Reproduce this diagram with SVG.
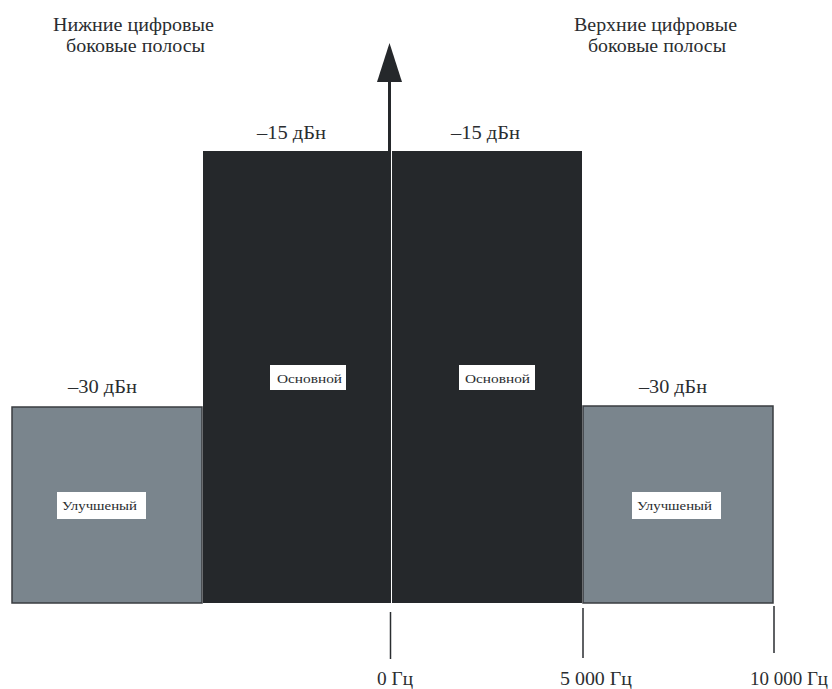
<svg xmlns="http://www.w3.org/2000/svg" width="832" height="689" viewBox="0 0 832 689">
<style>
text{font-family:'Liberation Serif','Times New Roman','DejaVu Serif',serif;fill:#2a2d30;}
.big{font-size:18px;}
.sm{font-size:12.5px;}
.dark{fill:#25282b;}
.gray{fill:#7a858d;stroke:#3a3d40;stroke-width:1.5;}
.tick{stroke:#2a2d30;stroke-width:1.5;}
.lbl{fill:#ffffff;}
</style>
<rect width="832" height="689" fill="#ffffff"/>
<g id="titles" font-family="Liberation Serif, serif">
<text class="big" x="53" y="31" textLength="161" lengthAdjust="spacingAndGlyphs">Нижние цифровые</text>
<text class="big" x="66" y="52" textLength="139" lengthAdjust="spacingAndGlyphs">боковые полосы</text>
<text class="big" x="574" y="31" textLength="163" lengthAdjust="spacingAndGlyphs">Верхние цифровые</text>
<text class="big" x="588" y="52" textLength="138" lengthAdjust="spacingAndGlyphs">боковые полосы</text>
</g>
<g id="lower-enhanced">
<rect class="gray" x="12" y="407" width="190" height="196"/>
<rect class="lbl" x="57" y="492" width="89" height="27"/>
<text class="sm" x="62" y="510" textLength="75" lengthAdjust="spacingAndGlyphs">Улучшеный</text>
<text class="big" x="68" y="393" textLength="69" lengthAdjust="spacingAndGlyphs">–30 дБн</text>
</g>
<g id="lower-primary">
<rect class="dark" x="203" y="151" width="188" height="452"/>
<rect class="lbl" x="270" y="365" width="76" height="25"/>
<text class="sm" x="277" y="383" textLength="65" lengthAdjust="spacingAndGlyphs">Основной</text>
<text class="big" x="257" y="139" textLength="69" lengthAdjust="spacingAndGlyphs">–15 дБн</text>
</g>
<g id="upper-primary">
<rect class="dark" x="392" y="151" width="190" height="452"/>
<rect class="lbl" x="459" y="365" width="76" height="25"/>
<text class="sm" x="465" y="383" textLength="65" lengthAdjust="spacingAndGlyphs">Основной</text>
<text class="big" x="451" y="139" textLength="69" lengthAdjust="spacingAndGlyphs">–15 дБн</text>
</g>
<g id="upper-enhanced">
<rect class="gray" x="583" y="406" width="190" height="197"/>
<rect class="lbl" x="632" y="492" width="89" height="27"/>
<text class="sm" x="637" y="510" textLength="75" lengthAdjust="spacingAndGlyphs">Улучшеный</text>
<text class="big" x="639" y="393" textLength="68" lengthAdjust="spacingAndGlyphs">–30 дБн</text>
</g>
<g id="axis">
<line x1="389.5" y1="152" x2="389.5" y2="80" stroke="#25282b" stroke-width="3"/>
<polygon points="389.5,43 377,82 402,82" fill="#25282b"/>
<line class="tick" x1="390.5" y1="612" x2="390.5" y2="659"/>
<line class="tick" x1="583" y1="608" x2="583" y2="658"/>
<line class="tick" x1="774" y1="606" x2="774" y2="653"/>
<text class="big" x="377" y="685" textLength="36" lengthAdjust="spacingAndGlyphs">0 Гц</text>
<text class="big" x="560" y="685" textLength="72" lengthAdjust="spacingAndGlyphs">5 000 Гц</text>
<text class="big" x="750" y="685" textLength="78" lengthAdjust="spacingAndGlyphs">10 000 Гц</text>
</g>
</svg>
